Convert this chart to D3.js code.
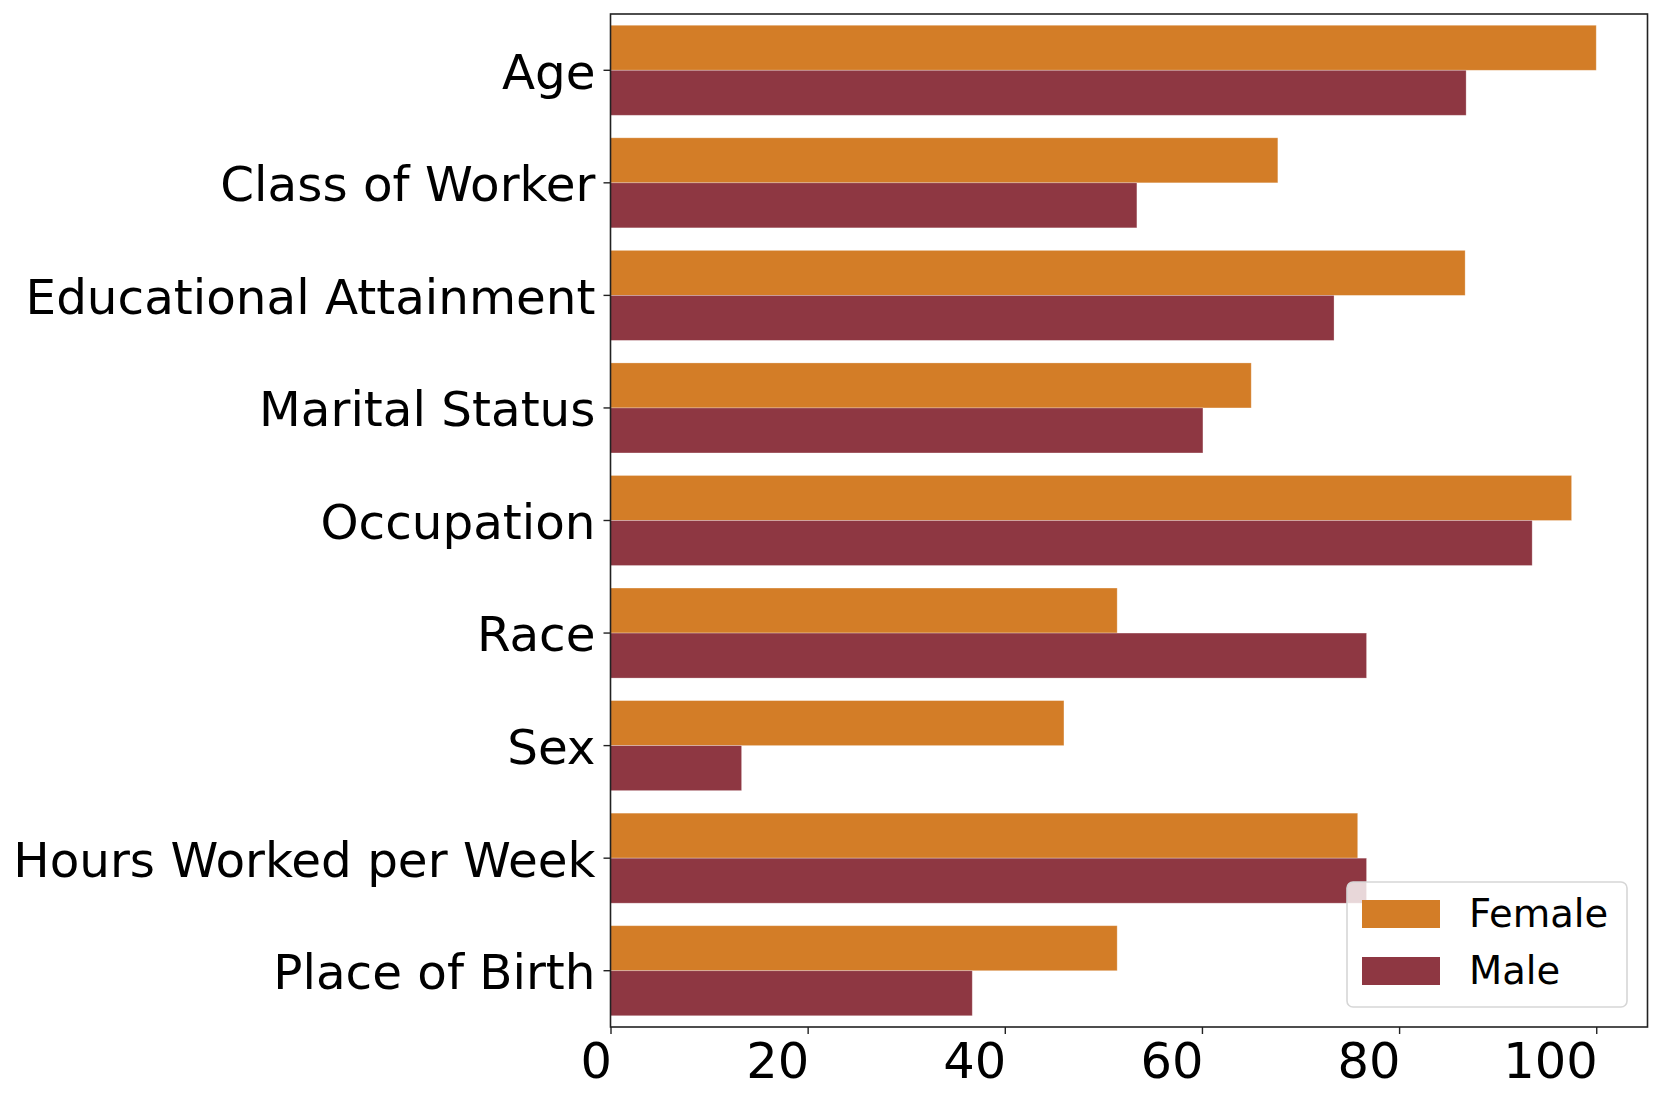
<!DOCTYPE html>
<html>
<head>
<meta charset="utf-8">
<script src="https://cdn.jsdelivr.net/npm/d3@7"></script>
<style>
  body { margin: 0; background: #fff; }
  svg { display: block; font-family: "DejaVu Sans", sans-serif; }
</style>
</head>
<body>
<svg width="1660" height="1102"></svg>
<script>
// data
const categories = ["Age", "Class of Worker", "Educational Attainment", "Marital Status",
  "Occupation", "Race", "Sex", "Hours Worked per Week", "Place of Birth"];
const groups = ["Female", "Male"];
const femaleValues = [100.0, 67.7, 86.7, 65.0, 97.5, 51.4, 46.0, 75.8, 51.4];
const maleValues = [86.8, 53.4, 73.4, 60.1, 93.5, 76.7, 13.3, 76.7, 36.7];
const xTicks = [0, 20, 40, 60, 80, 100];
const colors = { Female: "#d37d27", Male: "#8e3742" };

const svg = d3.select("svg");

// plot box
const plotLeft = 610.5, plotRight = 1647.5, plotTop = 14, plotBottom = 1027;

const rows = categories.map((c, i) => ({ cat: c, Female: femaleValues[i], Male: maleValues[i] }));

const xMax = d3.max(rows, d => Math.max(d.Female, d.Male)) * 1.052;
const x = d3.scaleLinear().domain([0, xMax]).range([plotLeft, plotRight]);

const y = d3.scaleBand().domain(categories).range([plotTop, plotBottom]).paddingInner(0).paddingOuter(0);
// seaborn uses 0.8 of the band for the group
const inner = d3.scaleBand().domain(groups).range([0, y.bandwidth() * 0.8]);
const offset = y.bandwidth() * 0.1;

// bars
const g = svg.append("g");
groups.forEach(grp => {
  g.selectAll("rect." + grp)
    .data(rows)
    .enter()
    .append("rect")
    .attr("class", grp)
    .attr("x", x(0))
    .attr("y", d => y(d.cat) + offset + inner(grp))
    .attr("width", d => x(d[grp]) - x(0))
    .attr("height", inner.bandwidth())
    .attr("fill", colors[grp])
    .attr("stroke", "#fff")
    .attr("stroke-opacity", 0.35)
    .attr("stroke-width", 0.8);
});

// x axis (labels sit right-aligned on their ticks, as in the reference)
const xAxis = d3.axisBottom(x).tickValues(xTicks).tickSize(7).tickPadding(9).tickFormat(d3.format("d"));
const gx = svg.append("g").attr("transform", `translate(0,${plotBottom})`).call(xAxis);
gx.select(".domain").remove();
gx.selectAll(".tick line").attr("stroke", "#222").attr("stroke-width", 1.4);
gx.selectAll(".tick text").attr("font-size", 49.5).attr("fill", "#000")
  .attr("font-family", "DejaVu Sans").attr("text-anchor", "end").attr("x", 1);

// y axis
const yAxis = d3.axisLeft(y).tickSize(7).tickPadding(8);
const gy = svg.append("g").attr("transform", `translate(${plotLeft},0)`).call(yAxis);
gy.select(".domain").remove();
gy.selectAll(".tick line").attr("stroke", "#222").attr("stroke-width", 1.4);
gy.selectAll(".tick text").attr("font-size", 48.4).attr("fill", "#000")
  .attr("font-family", "DejaVu Sans").attr("dy", "0.38em");

// frame
svg.append("rect")
  .attr("x", plotLeft).attr("y", plotTop)
  .attr("width", plotRight - plotLeft).attr("height", plotBottom - plotTop)
  .attr("fill", "none").attr("stroke", "#222").attr("stroke-width", 1.6);

// legend
const lg = svg.append("g").attr("transform", "translate(1347,882)");
lg.append("rect")
  .attr("width", 280).attr("height", 125).attr("rx", 6)
  .attr("fill", "#fff").attr("fill-opacity", 0.8)
  .attr("stroke", "#d6d6d6").attr("stroke-width", 1.6);
groups.forEach((grp, i) => {
  lg.append("rect")
    .attr("x", 15).attr("y", 18 + i * 57)
    .attr("width", 78).attr("height", 28)
    .attr("fill", colors[grp]);
  lg.append("text")
    .attr("x", 122).attr("y", 45 + i * 57)
    .attr("font-size", 38.5).attr("fill", "#000")
    .text(grp);
});
</script>
</body>
</html>
